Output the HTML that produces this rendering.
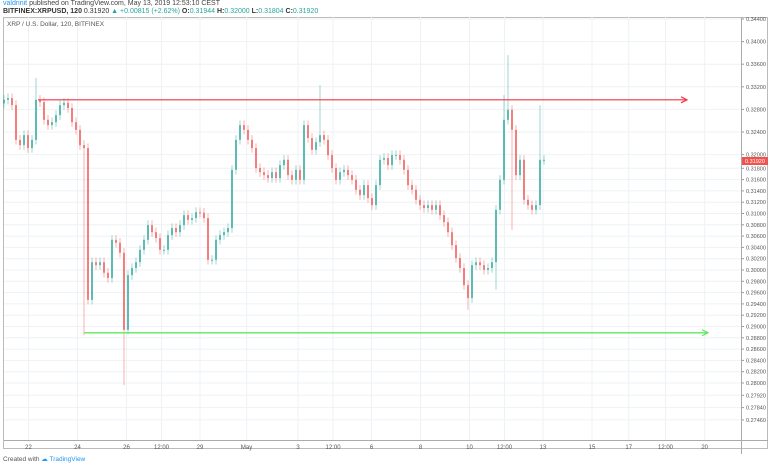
<!DOCTYPE html>
<html><head><meta charset="utf-8"><style>
body{margin:0;background:#fff;font-family:"Liberation Sans",sans-serif;}
#wrap{position:relative;width:768px;height:466px;overflow:hidden;}
.t{position:absolute;white-space:nowrap;}
</style></head><body>
<div id="wrap">
<div class="t" style="left:3px;top:0px;font-size:7px;color:#444"><span style="color:#2196f3">valdrinit</span> published on TradingView.com, May 13, 2019 12:53:10 CEST</div>
<div class="t" style="left:3px;top:8px;font-size:7px;color:#333;font-weight:bold">BITFINEX:XRPUSD, 120 <span style="font-weight:normal">0.31920 <span style="color:#26a69a">▲ +0.00815 (+2.62%)</span></span> O:<span style="color:#26a69a;font-weight:normal">0.31944</span> H:<span style="color:#26a69a;font-weight:normal">0.32000</span> L:<span style="color:#26a69a;font-weight:normal">0.31804</span> C:<span style="color:#26a69a;font-weight:normal">0.31920</span></div>
<svg id="chart" width="768" height="466" style="position:absolute;left:0;top:0"></svg>
<div class="t" style="left:7px;top:21px;font-size:6.5px;color:#555">XRP / U.S. Dollar, 120, BITFINEX</div>
<div class="t" style="left:3px;top:455px;font-size:6.5px;color:#555">Created with <span style="color:#2196f3">☁ TradingView</span></div>
</div>
<script>
const closes=[0.3296,0.3299,0.3287,0.3228,0.3219,0.3236,0.3214,0.3228,0.3296,0.3292,0.3262,0.3253,0.3258,0.3270,0.3287,0.3291,0.3282,0.3258,0.3245,0.3219,0.3214,0.2956,0.3020,0.3015,0.3020,0.3002,0.2993,0.3058,0.3053,0.3036,0.2905,0.2998,0.3010,0.3020,0.3041,0.3058,0.3083,0.3071,0.3061,0.3041,0.3041,0.3066,0.3078,0.3071,0.3083,0.3100,0.3092,0.3095,0.3105,0.3104,0.3095,0.3024,0.3024,0.3058,0.3066,0.3071,0.3078,0.3177,0.3228,0.3253,0.3245,0.3228,0.3214,0.3180,0.3173,0.3168,0.3163,0.3173,0.3163,0.3185,0.3194,0.3168,0.3160,0.3177,0.3160,0.3253,0.3231,0.3211,0.3224,0.3236,0.3228,0.3202,0.3180,0.3160,0.3173,0.3177,0.3168,0.3160,0.3143,0.3134,0.3151,0.3129,0.3117,0.3151,0.3194,0.3197,0.3185,0.3202,0.3202,0.3194,0.3177,0.3151,0.3143,0.3126,0.3117,0.3112,0.3117,0.3109,0.3117,0.3100,0.3088,0.3071,0.3049,0.3027,0.3010,0.2981,0.2959,0.3015,0.3020,0.3015,0.3007,0.3010,0.3020,0.3109,0.3160,0.3262,0.3279,0.3245,0.3168,0.3194,0.3126,0.3117,0.3109,0.3117,0.3194,0.3194];
const firstOpen=0.3290;
const spikeIdx=[8,20,30,79,126,127,134,116,123,125];
const spikePrice=[0.3333,0.2896,0.2811,0.3321,0.3372,0.3075,0.3287,0.2939,0.2973,0.3304];
const yTicks=["0.34400","0.34000","0.33600","0.33200","0.32800","0.32400","0.32000","0.31800","0.31600","0.31400","0.31200","0.31000","0.30800","0.30600","0.30400","0.30200","0.30000","0.29800","0.29600","0.29400","0.29200","0.29000","0.28800","0.28600","0.28400","0.28200","0.28000","0.27920","0.27840","0.27460"];
const xTicks=["22","24","26","12:00","29","May","3","12:00","6","8","10","12:00","13","15","17","12:00","20"];
const xTickPos=[1.0,3.0,5.0,6.43,8.0,9.9,12.0,13.43,15.0,17.0,19.0,20.43,22.0,24.0,25.5,27.0,28.6];
const resistance=0.3296, support=0.2900, lastPrice=0.31920;

const NS="http://www.w3.org/2000/svg";
const svg=document.getElementById('chart');
const PT=17,PB=440,PR=741;
function y(v){return 161+(0.3192-v)/0.00017;}
function xi(i){return 4+i*4;}
function xd(d){return 4+d*24.5;}
function mk(tag,attrs,name,inter){const e=document.createElementNS(NS,tag);for(const k in attrs)e.setAttribute(k,attrs[k]);


svg.appendChild(e);return e;}
mk('rect',{x:3.5,y:PT+0.5,width:764,height:448-PT,fill:'none',stroke:'#bbb','stroke-width':1},'chart-frame','false');
yTicks.forEach((t,i)=>{
  const ty= i<7 ? 19+i*22.6 : 157+ (i-6)*11.3 + (i>26?(i-26)*1:0);
  mk('line',{x1:4,x2:PR,y1:ty,y2:ty,stroke:'#eef2f6','stroke-width':1},'y-grid-line','false');
  mk('line',{x1:PR,x2:PR+3,y1:ty,y2:ty,stroke:'#999','stroke-width':1},'y-tick','false');
  const tx=mk('text',{x:PR+5,y:ty+2,'font-size':5.5,fill:'#555','font-family':'Liberation Sans, sans-serif'},'y-tick-label','false');tx.textContent=t;
});
xTicks.forEach((t,i)=>{
  const tx0=xd(xTickPos[i]);
  mk('line',{x1:tx0,x2:tx0,y1:PT,y2:PB,stroke:'#eef2f6','stroke-width':1},'x-grid-line','false');
  const tx=mk('text',{x:tx0,y:PB+9,'font-size':6,fill:'#555','text-anchor':'middle','font-family':'Liberation Sans, sans-serif'},'x-tick-label','false');tx.textContent=t;
});
mk('line',{x1:PR+0.5,x2:PR+0.5,y1:PT,y2:PB+14,stroke:'#aaa','stroke-width':1},'price-axis-line','false');
mk('line',{x1:4,x2:768,y1:PB+0.5,y2:PB+0.5,stroke:'#aaa','stroke-width':1},'time-axis-line','false');
let prev=firstOpen;
closes.forEach((c,i)=>{
  const o=prev;prev=c;
  let hi=Math.max(o,c)+0.0008, lo=Math.min(o,c)-0.0008;
  const k=spikeIdx.indexOf(i);
  if(k>=0){if(spikePrice[k]>hi)hi=spikePrice[k];if(spikePrice[k]<lo)lo=spikePrice[k];}
  const up=c>=o, col=up?'#26a69a':'#ef5350';
  const x=xi(i);
  mk('line',{x1:x,x2:x,y1:y(hi),y2:y(lo),stroke:col,'stroke-opacity':0.45,'stroke-width':1},'candle-wick','false');
  const top=y(Math.max(o,c)),h=Math.max(1,y(Math.min(o,c))-top);
  mk('rect',{x:x-0.8,y:top,width:1.6,height:h,fill:col,'fill-opacity':0.9},'candle-body','true');
});
const ry=y(resistance), sy=y(support);
mk('line',{x1:38,x2:686,y1:ry,y2:ry,stroke:'#f23645','stroke-width':1.2},'resistance-line','true');
mk('path',{d:`M681 ${ry-3} L687 ${ry} L681 ${ry+3}`,fill:'none',stroke:'#f23645','stroke-width':1.2},'resistance-arrow','false');
mk('line',{x1:84,x2:707,y1:sy,y2:sy,stroke:'#5ee85e','stroke-width':1.4},'support-line','true');
mk('path',{d:`M702 ${sy-3} L708 ${sy} L702 ${sy+3}`,fill:'none',stroke:'#5ee85e','stroke-width':1.2},'support-arrow','false');
const py=y(lastPrice);
mk('rect',{x:PR+1,y:py-4,width:27,height:8,fill:'#ef5350'},'last-price-label','false');
const lt=mk('text',{x:PR+4,y:py+2,'font-size':5.5,fill:'#fff','font-family':'Liberation Sans, sans-serif'},'last-price-text','false');lt.textContent=lastPrice.toFixed(5);
</script>
</body></html>
